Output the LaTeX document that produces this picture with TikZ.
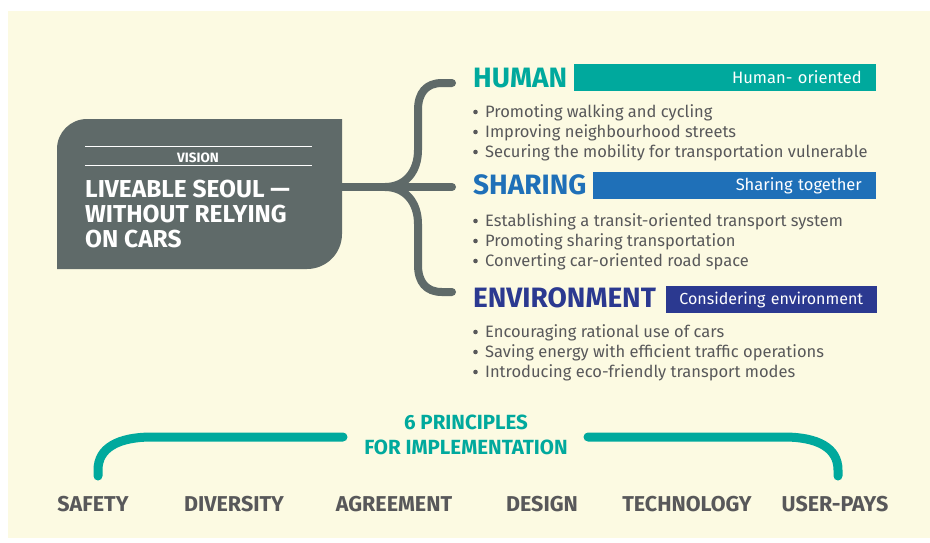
\documentclass[tikz,border=0pt]{standalone}
\usepackage{fontspec}
\setmainfont{Fira Sans}
\usetikzlibrary{positioning}
\definecolor{cream}{HTML}{FCFAE2}
\definecolor{slate}{HTML}{5F6A69}
\definecolor{seoulteal}{HTML}{00A99D}
\definecolor{seoulblue}{HTML}{1F70B8}
\definecolor{seoulnavy}{HTML}{2B3990}
\definecolor{ink}{HTML}{58585A}

\begin{document}
\begin{tikzpicture}[x=1pt, y=-1pt,
   head/.style = {font=\fontsize{28}{28}\selectfont\bfseries, inner sep=0pt, anchor=base west},
    bar/.style = {fill=#1, text=white, anchor=east, minimum height=27pt, inner xsep=14pt,
                  inner ysep=0pt, align=right, font=\fontsize{16.5}{16.5}\selectfont},
   item/.style = {text=ink, inner sep=0pt, anchor=base west, font=\fontsize{16.5}{20}\selectfont},
    dot/.style = {fill=ink},
  wordy/.style = {text=ink, inner sep=0pt, anchor=base, font=\fontsize{21.5}{21.5}\selectfont\bfseries},
   fork/.style = {draw=slate, line width=8pt, line cap=round},
tealline/.style = {draw=seoulteal, line width=9pt, line cap=round}
                        ]
\useasboundingbox (0,0) rectangle (930,542);
\fill[cream] (8,11) rectangle (930,538);
% vision box
\fill[slate] (57,269) -- (57,149) .. controls (57,132.4) and (70.4,119) .. (87,119)
      -- (342,119) -- (342,234) .. controls (342,253.3) and (326.3,269) .. (307,269) -- cycle;
\draw[white, line width=1pt] (85,146) -- (312,146);
\draw[white, line width=1pt] (85,165) -- (312,165);
\node (visionlabel) [text=white, inner sep=0pt, anchor=base,
      font=\fontsize{13.5}{13.5}\selectfont\bfseries] at (198,162) {VISION};
\node (vision) [text=white, inner sep=0pt, anchor=north west, align=left,
      font=\fontsize{24.5}{25}\selectfont\bfseries] at (85,180)
      {LIVEABLE SEOUL ---\\WITHOUT RELYING\\ON CARS};
% the three directions
\node (human) [head, text=seoulteal] at (473,87) {HUMAN};
\node (humanbar) [bar=seoulteal, minimum width=302pt, text width=274pt] at (876,77.5) {Human- oriented};
\node (h1) [item] at (485,117) {Promoting walking and cycling};
\node (h2) [item] at (485,137) {Improving neighbourhood streets};
\node (h3) [item] at (485,157) {Securing the mobility for transportation vulnerable};

\node (sharing) [head, text=seoulblue] at (473,194) {SHARING};
\node (sharingbar) [bar=seoulblue, minimum width=283pt, text width=255pt] at (876,185.5) {Sharing together};
\node (s1) [item] at (485,226) {Establishing a transit-oriented transport system};
\node (s2) [item] at (485,246) {Promoting sharing transportation};
\node (s3) [item] at (485,266) {Converting car-oriented road space};

\node (environment) [head, text=seoulnavy] at (473,307) {ENVIRONMENT};
\node (environmentbar) [bar=seoulnavy, minimum width=211pt, text width=197pt, inner xsep=7pt,
      align=center, font=\fontsize{16}{16}\selectfont] at (877,299.5) {Considering environment};
\node (e1) [item] at (485,337) {Encouraging rational use of cars};
\node (e2) [item] at (485,357) {Saving energy with efficient traffic operations};
\node (e3) [item] at (485,377) {Introducing eco-friendly transport modes};

% bullets
\fill[dot] (h1.base west) ++(-9.5,-5) circle (2.3pt); \fill[dot] (h2.base west) ++(-9.5,-5) circle (2.3pt);
\fill[dot] (h3.base west) ++(-9.5,-5) circle (2.3pt); \fill[dot] (s1.base west) ++(-9.5,-5) circle (2.3pt);
\fill[dot] (s2.base west) ++(-9.5,-5) circle (2.3pt); \fill[dot] (s3.base west) ++(-9.5,-5) circle (2.3pt);
\fill[dot] (e1.base west) ++(-9.5,-5) circle (2.3pt); \fill[dot] (e2.base west) ++(-9.5,-5) circle (2.3pt);
\fill[dot] (e3.base west) ++(-9.5,-5) circle (2.3pt);

% fork from the vision box
\coordinate (stem) at (342,187);
\coordinate (humantip) at (452,83);
\coordinate (sharingtip) at (452,187);
\coordinate (environmenttip) at (452,292);
\draw[fork] (stem) -- (sharingtip);
\draw[fork] (humantip) -- (442,83) .. controls (426,83) and (418,93) .. (418,110)
      -- (418,150) .. controls (418,172) and (405,187) .. (385,187);
\draw[fork] (environmenttip) -- (442,292) .. controls (426,292) and (418,282) .. (418,265)
      -- (418,224) .. controls (418,202) and (405,187) .. (385,187);

% principles
\node (principles) [text=seoulteal, inner sep=0pt, align=center,
      font=\fontsize{20.5}{25}\selectfont\bfseries] at (466,435) {6 PRINCIPLES\\FOR IMPLEMENTATION};
\node (safety)     [wordy] at (93,511)  {SAFETY};
\node (diversity)  [wordy] at (234,511) {DIVERSITY};
\node (agreement)  [wordy] at (394,511) {AGREEMENT};
\node (design)     [wordy] at (542,511) {DESIGN};
\node (technology) [wordy] at (687,511) {TECHNOLOGY};
\node (userpays)   [wordy] at (835,511) {USER-PAYS};
\coordinate (leftfoot) at (98,476);
\coordinate (rightfoot) at (838,476);
\draw[tealline] (leftfoot) -- (98,470) .. controls (98,448) and (118,437) .. (152,437) -- (343,437);
\draw[tealline] (588,437) -- (784,437) .. controls (818,437) and (838,448) .. (838,470) -- (rightfoot);
\end{tikzpicture}
\end{document}
